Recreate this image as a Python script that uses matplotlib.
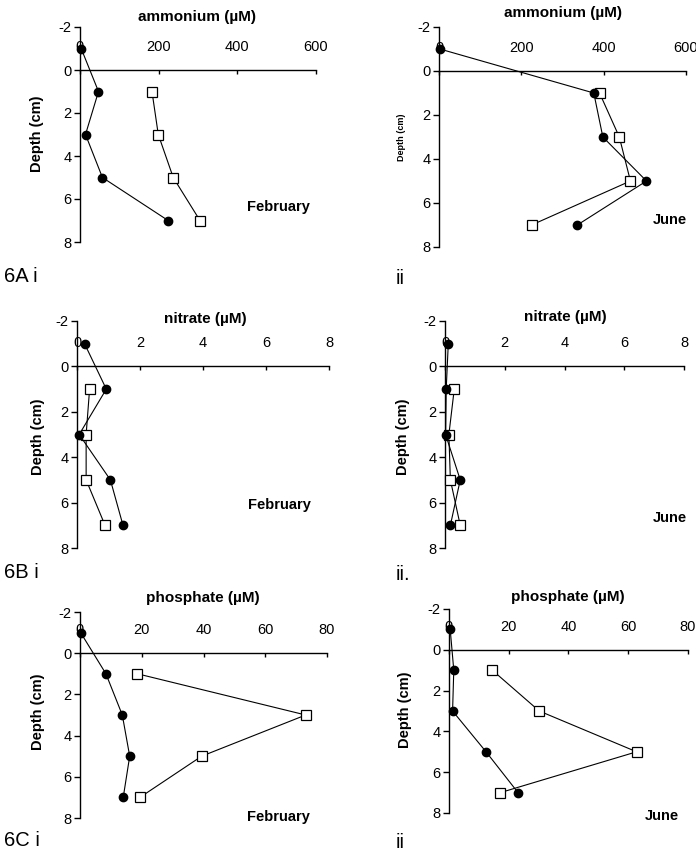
import matplotlib
matplotlib.use("Agg")
import matplotlib.pyplot as plt

plt.rcParams['font.family'] = ['Liberation Sans', 'DejaVu Sans']
plt.rcParams['axes.unicode_minus'] = False

# ---------------- data ----------------
depth_circ = [-1, 1, 3, 5, 7]
depth_sq = [1, 3, 5, 7]

amm_feb_circ = [3, 47, 14, 57, 224]
amm_feb_sq = [183, 199, 237, 305]
amm_jun_circ = [2, 376, 398, 504, 336]
amm_jun_sq = [390, 438, 465, 225]

nit_feb_circ = [0.24, 0.93, 0.07, 1.06, 1.46]
nit_feb_sq = [0.40, 0.29, 0.29, 0.89]
nit_jun_circ = [0.11, 0.04, 0.02, 0.51, 0.18]
nit_jun_sq = [0.31, 0.13, 0.18, 0.51]

pho_feb_circ = [0.2, 8.4, 13.7, 16.1, 14.0]
pho_feb_sq = [18.6, 73.1, 39.4, 19.4]
pho_jun_circ = [0.4, 1.6, 1.2, 12.4, 23.1]
pho_jun_sq = [14.5, 30.2, 62.8, 17.2]

amm_ticks = [0, 200, 400, 600]
nit_ticks = [0, 2, 4, 6, 8]
pho_ticks = [0, 20, 40, 60, 80]
depth_ticks = [-2, 0, 2, 4, 6, 8]

titles = ["ammonium (\u00b5M)", "nitrate (\u00b5M)", "phosphate (\u00b5M)"]
months = ["February", "June"]
ylabel = "Depth (cm)"
panel_labels = [["6A i", "ii"], ["6B i", "ii."], ["6C i", "ii"]]

W, H = 696, 856
fig = plt.figure(figsize=(W / 100, H / 100), dpi=100)


def fx(px):
    return px / W


def fy(py):
    return 1 - py / H


panels = [
    dict(box=(80, 316, 27, 242), circ=amm_feb_circ, sq=amm_feb_sq, ticks=amm_ticks,
         title=titles[0], tpos=(197, 17), month=months[0], mpos=(247, 207),
         ylpos=(37, 134), ylsize=10.5, plabel=panel_labels[0][0], ppos=(4, 276)),
    dict(box=(439, 686, 27, 247), circ=amm_jun_circ, sq=amm_jun_sq, ticks=amm_ticks,
         title=titles[0], tpos=(563, 13), month=months[1], mpos=(653, 220),
         ylpos=(401, 137), ylsize=6.5, plabel=panel_labels[0][1], ppos=(396, 278)),
    dict(box=(77, 329, 321, 548), circ=nit_feb_circ, sq=nit_feb_sq, ticks=nit_ticks,
         title=titles[1], tpos=(205, 319), month=months[0], mpos=(248, 505),
         ylpos=(38, 437), ylsize=10.5, plabel=panel_labels[1][0], ppos=(4, 572)),
    dict(box=(445, 684, 321, 548), circ=nit_jun_circ, sq=nit_jun_sq, ticks=nit_ticks,
         title=titles[1], tpos=(565, 317), month=months[1], mpos=(653, 518),
         ylpos=(403, 437), ylsize=10.5, plabel=panel_labels[1][1], ppos=(396, 574)),
    dict(box=(80, 327, 612, 818), circ=pho_feb_circ, sq=pho_feb_sq, ticks=pho_ticks,
         title=titles[2], tpos=(203, 598), month=months[0], mpos=(247, 817),
         ylpos=(38, 712), ylsize=10.5, plabel=panel_labels[2][0], ppos=(4, 840)),
    dict(box=(449, 688, 609, 813), circ=pho_jun_circ, sq=pho_jun_sq, ticks=pho_ticks,
         title=titles[2], tpos=(568, 597), month=months[1], mpos=(645, 816),
         ylpos=(405, 710), ylsize=10.5, plabel=panel_labels[2][1], ppos=(396, 843)),
]

for p in panels:
    l, r, t, b = p['box']
    ax = fig.add_axes([fx(l), fy(b), (r - l) / W, (b - t) / H])
    ax.patch.set_alpha(0)
    ticks = p['ticks']
    ax.set_xlim(ticks[0], ticks[-1])
    ax.set_ylim(8, -2)
    ax.set_xticks(ticks)
    ax.set_yticks(depth_ticks)
    ax.spines['right'].set_visible(False)
    ax.spines['bottom'].set_visible(False)
    ax.spines['top'].set_position(('data', 0))
    ax.spines['top'].set_linewidth(1.0)
    ax.spines['left'].set_linewidth(1.0)
    ax.xaxis.set_ticks_position('top')
    ax.tick_params(axis='x', direction='in', length=3, width=1, pad=11.5, labelsize=10.5,
                   colors='black')
    ax.tick_params(axis='y', direction='out', length=4, width=1, pad=2, labelsize=10.5,
                   colors='black')
    ax.plot(p['sq'], depth_sq, color='black', lw=0.8, marker='s', ms=7.8,
            mfc='white', mec='black', mew=0.9, clip_on=False, zorder=3)
    ax.plot(p['circ'], depth_circ, color='black', lw=0.8, marker='o', ms=6,
            mfc='black', mec='black', clip_on=False, zorder=4)

    fig.text(fx(p['tpos'][0]), fy(p['tpos'][1]), p['title'], ha='center', va='center',
             fontsize=11, fontweight='bold')
    fig.text(fx(p['mpos'][0]), fy(p['mpos'][1]), p['month'], ha='left', va='center',
             fontsize=10.5, fontweight='bold')
    fig.text(fx(p['ylpos'][0]), fy(p['ylpos'][1]), ylabel, ha='center', va='center',
             rotation=90, fontsize=p['ylsize'], fontweight='bold')
    fig.text(fx(p['ppos'][0]), fy(p['ppos'][1]), p['plabel'], ha='left', va='center',
             fontsize=14.5)

fig.savefig("out.png", dpi=100, facecolor='white')
